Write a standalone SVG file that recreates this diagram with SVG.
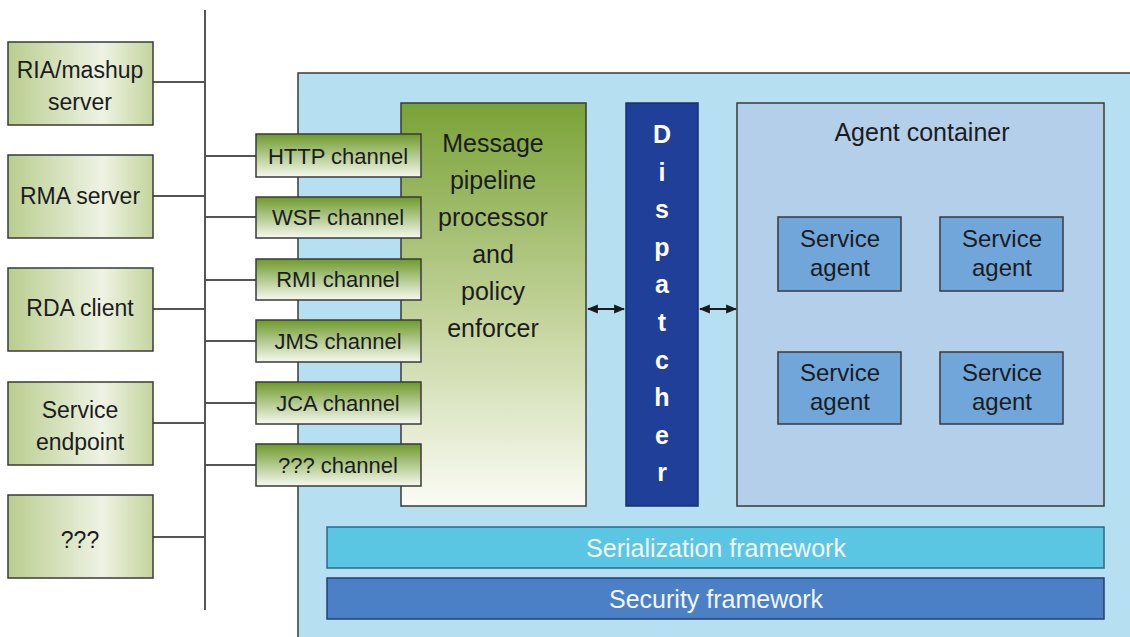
<svg xmlns="http://www.w3.org/2000/svg" width="1130" height="637" viewBox="0 0 1130 637">
<defs>
<linearGradient id="gLeft" x1="0" y1="0" x2="1" y2="0">
<stop offset="0" stop-color="#b9cd8f"/>
<stop offset="0.65" stop-color="#eef3e3"/>
<stop offset="1" stop-color="#c3d59e"/>
</linearGradient>
<linearGradient id="gChan" x1="0" y1="0" x2="0" y2="1">
<stop offset="0" stop-color="#6e9a2c"/>
<stop offset="1" stop-color="#f6f9ef"/>
</linearGradient>
<linearGradient id="gPipe" x1="0" y1="0" x2="0" y2="1">
<stop offset="0" stop-color="#79a236"/>
<stop offset="0.55" stop-color="#c6d59f"/>
<stop offset="1" stop-color="#fbfcf6"/>
</linearGradient>
<marker id="ah" viewBox="0 0 10 10" refX="9" refY="5" markerWidth="11" markerHeight="11" orient="auto-start-reverse" markerUnits="userSpaceOnUse">
<path d="M0,1 L10,5 L0,9 z" fill="#1a1a1a"/>
</marker>
</defs>
<style>
text{font-family:"Liberation Sans",Arial,sans-serif;font-size:23px;fill:#1c1c1c;text-anchor:middle}
.ch{font-size:22px}
.big{font-size:25px}
.sa{font-size:24px}
.box{stroke:#3a3a3a;stroke-width:1.5}
.left{fill:url(#gLeft)}
.chan{fill:url(#gChan)}
.line{stroke:#555;stroke-width:2;fill:none}
.arrow{stroke:#1a1a1a;stroke-width:2.2;fill:none}
.disp{fill:#fff;font-weight:bold;font-size:25px}
.wt{fill:#f2f7fb;font-size:25px}
</style>
<rect x="0" y="0" width="1130" height="637" fill="#ffffff"/>

<g id="main-container">
<rect x="298" y="73" width="840" height="580" fill="#b6e0f1" class="box"/>
</g>

<g id="connectors">
<line class="line" x1="205" y1="10" x2="205" y2="610"/>
<line class="line" x1="153" y1="82" x2="205" y2="82"/>
<line class="line" x1="153" y1="196" x2="205" y2="196"/>
<line class="line" x1="153" y1="309" x2="205" y2="309"/>
<line class="line" x1="153" y1="423" x2="205" y2="423"/>
<line class="line" x1="153" y1="537" x2="205" y2="537"/>
<line class="line" x1="205" y1="156" x2="256" y2="156"/>
<line class="line" x1="205" y1="217" x2="256" y2="217"/>
<line class="line" x1="205" y1="280" x2="256" y2="280"/>
<line class="line" x1="205" y1="341" x2="256" y2="341"/>
<line class="line" x1="205" y1="403" x2="256" y2="403"/>
<line class="line" x1="205" y1="465" x2="256" y2="465"/>
<line class="arrow" x1="588" y1="309" x2="624" y2="309" marker-start="url(#ah)" marker-end="url(#ah)"/>
<line class="arrow" x1="700" y1="309" x2="736" y2="309" marker-start="url(#ah)" marker-end="url(#ah)"/>
</g>

<g id="ria"><rect class="box left" x="8" y="42" width="145" height="83"/><text x="80" y="78">RIA/mashup</text><text x="80" y="110">server</text></g>
<g id="rma"><rect class="box left" x="8" y="155" width="145" height="83"/><text x="80" y="204">RMA server</text></g>
<g id="rda"><rect class="box left" x="8" y="268" width="145" height="83"/><text x="80" y="316">RDA client</text></g>
<g id="service-endpoint"><rect class="box left" x="8" y="382" width="145" height="83"/><text x="80" y="418">Service</text><text x="80" y="450">endpoint</text></g>
<g id="unknown-client"><rect class="box left" x="8" y="495" width="145" height="83"/><text x="80" y="548">???</text></g>

<g id="pipeline"><rect class="box" x="401" y="103" width="185" height="403" fill="url(#gPipe)"/>
<text class="big" x="493" y="152">Message</text><text class="big" x="493" y="189">pipeline</text><text class="big" x="493" y="226">processor</text><text class="big" x="493" y="263">and</text><text class="big" x="493" y="300">policy</text><text class="big" x="493" y="337">enforcer</text></g>

<g id="http-channel"><rect class="box chan" x="256" y="134" width="165" height="43"/><text class="ch" x="338" y="164">HTTP channel</text></g>
<g id="wsf-channel"><rect class="box chan" x="256" y="197" width="165" height="41"/><text class="ch" x="338" y="225">WSF channel</text></g>
<g id="rmi-channel"><rect class="box chan" x="256" y="259" width="165" height="41"/><text class="ch" x="338" y="287">RMI channel</text></g>
<g id="jms-channel"><rect class="box chan" x="256" y="320" width="165" height="42"/><text class="ch" x="338" y="349">JMS channel</text></g>
<g id="jca-channel"><rect class="box chan" x="256" y="382" width="165" height="42"/><text class="ch" x="338" y="411">JCA channel</text></g>
<g id="unknown-channel"><rect class="box chan" x="256" y="444" width="165" height="42"/><text class="ch" x="338" y="473">??? channel</text></g>

<g id="dispatcher"><rect x="626" y="103" width="72" height="403" fill="#1f3f98" stroke="#1a2f70" stroke-width="1.5"/>
<text class="disp" x="662" y="143">D</text><text class="disp" x="662" y="181">i</text><text class="disp" x="662" y="218">s</text><text class="disp" x="662" y="256">p</text><text class="disp" x="662" y="293">a</text><text class="disp" x="662" y="331">t</text><text class="disp" x="662" y="369">c</text><text class="disp" x="662" y="406">h</text><text class="disp" x="662" y="444">e</text><text class="disp" x="662" y="481">r</text></g>

<g id="agent-container"><rect class="box" x="737" y="103" width="367" height="403" fill="#b3cfea"/><text class="big" x="922" y="141">Agent container</text></g>
<g id="agent-1"><rect class="box" x="778" y="217" width="123" height="74" fill="#70a6da"/><text class="sa" x="840" y="247">Service</text><text class="sa" x="840" y="276">agent</text></g>
<g id="agent-2"><rect class="box" x="940" y="217" width="123" height="74" fill="#70a6da"/><text class="sa" x="1002" y="247">Service</text><text class="sa" x="1002" y="276">agent</text></g>
<g id="agent-3"><rect class="box" x="778" y="352" width="123" height="72" fill="#70a6da"/><text class="sa" x="840" y="381">Service</text><text class="sa" x="840" y="410">agent</text></g>
<g id="agent-4"><rect class="box" x="940" y="352" width="123" height="72" fill="#70a6da"/><text class="sa" x="1002" y="381">Service</text><text class="sa" x="1002" y="410">agent</text></g>

<g id="serialization"><rect x="327" y="527" width="777" height="41" fill="#5bc6e4" stroke="#2a6a8a" stroke-width="1.5"/><text class="wt" x="716" y="557">Serialization framework</text></g>
<g id="security"><rect x="327" y="578" width="777" height="41" fill="#4b80c7" stroke="#223f72" stroke-width="1.5"/><text class="wt" x="716" y="608">Security framework</text></g>
</svg>
